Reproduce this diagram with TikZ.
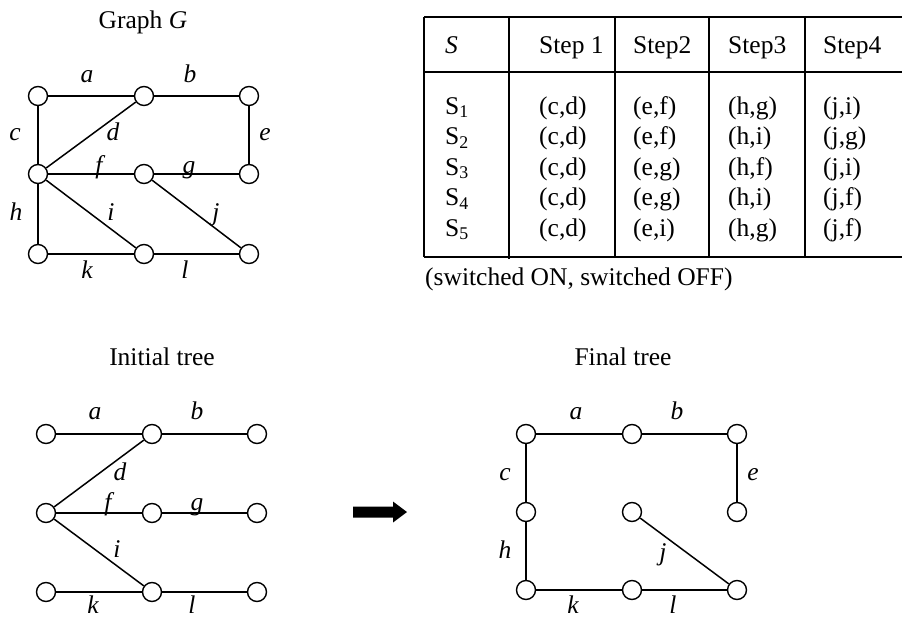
\documentclass[tikz,border=0pt]{standalone}
\usepackage{fontspec}
\setmainfont{Liberation Serif}
\begin{document}
\begin{tikzpicture}[x=1pt,y=-1pt,
  vtx/.style={circle,draw,line width=1.4pt,minimum size=19pt,inner sep=0pt,fill=white},
  edge/.style={line width=1.5pt},
  lab/.style={anchor=base,inner sep=0pt,font=\fontsize{25.5}{30}\selectfont\itshape},
  ttl/.style={anchor=base,inner sep=0pt,font=\fontsize{25.5}{30}\selectfont},
  cell/.style={anchor=base west,inner sep=0pt,font=\fontsize{25.5}{30}\selectfont},
  tline/.style={line width=1.5pt}]
\useasboundingbox (0,0) rectangle (902,618);

% ---------- Graph G ----------
\node[ttl] (tG) at (143,29) {Graph \textit{G}};
\node[vtx] (g11) at (38,96) {};
\node[vtx] (g12) at (144,96) {};
\node[vtx] (g13) at (249,96) {};
\node[vtx] (g21) at (38,174) {};
\node[vtx] (g22) at (144,174) {};
\node[vtx] (g23) at (249,174) {};
\node[vtx] (g31) at (38,254) {};
\node[vtx] (g32) at (144,254) {};
\node[vtx] (g33) at (249,254) {};
\draw[edge] (g11) -- (g12);
\draw[edge] (g12) -- (g13);
\draw[edge] (g11) -- (g21);
\draw[edge] (g21) -- (g12);
\draw[edge] (g13) -- (g23);
\draw[edge] (g21) -- (g22);
\draw[edge] (g22) -- (g23);
\draw[edge] (g21) -- (g31);
\draw[edge] (g21) -- (g32);
\draw[edge] (g22) -- (g33);
\draw[edge] (g31) -- (g32);
\draw[edge] (g32) -- (g33);
\node[lab] (Ga) at (87,82) {a};
\node[lab] (Gb) at (190,82) {b};
\node[lab] (Gc) at (15,140) {c};
\node[lab] (Gd) at (113,140) {d};
\node[lab] (Ge) at (265,140) {e};
\node[lab] (Gf) at (99,173) {f};
\node[lab] (Gg) at (189,173) {g};
\node[lab] (Gh) at (16,220) {h};
\node[lab] (Gi) at (111,220) {i};
\node[lab] (Gj) at (216,220) {j};
\node[lab] (Gk) at (87,278) {k};
\node[lab] (Gl) at (185,278) {l};

% ---------- Table ----------
\draw[tline] (424,17) -- (902,17);
\draw[tline] (424,72) -- (902,72);
\draw[tline] (424,257) -- (902,257);
\draw[tline] (424,17) -- (424,257);
\draw[tline] (509,17) -- (509,259);
\draw[tline] (615,17) -- (615,257);
\draw[tline] (709,17) -- (709,257);
\draw[tline] (805,17) -- (805,257);
\node[cell] (hS) at (445,53) {\textit{S}};
\node[cell] (h1) at (539,53) {Step 1};
\node[cell] (h2) at (633,53) {Step2};
\node[cell] (h3) at (728,53) {Step3};
\node[cell] (h4) at (823,53) {Step4};
\foreach \i/\yy/\a/\b/\c/\d in {1/114/{(c,d)}/{(e,f)}/{(h,g)}/{(j,i)},
                                 2/144.5/{(c,d)}/{(e,f)}/{(h,i)}/{(j,g)},
                                 3/175/{(c,d)}/{(e,g)}/{(h,f)}/{(j,i)},
                                 4/205.5/{(c,d)}/{(e,g)}/{(h,i)}/{(j,f)},
                                 5/236/{(c,d)}/{(e,i)}/{(h,g)}/{(j,f)}}{
  \node[cell] (s\i) at (445,\yy) {S\textsubscript{\i}};
  \node[cell] (a\i) at (539,\yy) {\a};
  \node[cell] (b\i) at (633,\yy) {\b};
  \node[cell] (c\i) at (728,\yy) {\c};
  \node[cell] (d\i) at (823,\yy) {\d};
}
\node[cell] (note) at (425,285) {(switched ON, switched OFF)};

% ---------- Initial tree ----------
\node[ttl] (tI) at (162,365) {Initial tree};
\node[vtx] (i11) at (46,434) {};
\node[vtx] (i12) at (152,434) {};
\node[vtx] (i13) at (257,434) {};
\node[vtx] (i21) at (46,513) {};
\node[vtx] (i22) at (152,513) {};
\node[vtx] (i23) at (257,513) {};
\node[vtx] (i31) at (46,592) {};
\node[vtx] (i32) at (152,592) {};
\node[vtx] (i33) at (257,592) {};
\draw[edge] (i11) -- (i12);
\draw[edge] (i12) -- (i13);
\draw[edge] (i21) -- (i12);
\draw[edge] (i21) -- (i22);
\draw[edge] (i22) -- (i23);
\draw[edge] (i21) -- (i32);
\draw[edge] (i31) -- (i32);
\draw[edge] (i32) -- (i33);
\node[lab] (Ia) at (95,419) {a};
\node[lab] (Ib) at (197,419) {b};
\node[lab] (Id) at (120,480) {d};
\node[lab] (If) at (108,510) {f};
\node[lab] (Ig) at (197,510) {g};
\node[lab] (Ii) at (117,557) {i};
\node[lab] (Ik) at (93,613) {k};
\node[lab] (Il) at (192,613) {l};

% ---------- Arrow ----------
\fill[black] (353,506.5) -- (393,506.5) -- (393,501.5) -- (407,512) -- (393,522.5) -- (393,517.5) -- (353,517.5) -- cycle;

% ---------- Final tree ----------
\node[ttl] (tF) at (623,365) {Final tree};
\node[vtx] (f11) at (526,434) {};
\node[vtx] (f12) at (632,434) {};
\node[vtx] (f13) at (737,434) {};
\node[vtx] (f21) at (526,512) {};
\node[vtx] (f22) at (632,512) {};
\node[vtx] (f23) at (737,512) {};
\node[vtx] (f31) at (526,590) {};
\node[vtx] (f32) at (632,590) {};
\node[vtx] (f33) at (737,590) {};
\draw[edge] (f11) -- (f12);
\draw[edge] (f12) -- (f13);
\draw[edge] (f11) -- (f21);
\draw[edge] (f13) -- (f23);
\draw[edge] (f21) -- (f31);
\draw[edge] (f31) -- (f32);
\draw[edge] (f32) -- (f33);
\draw[edge] (f22) -- (f33);
\node[lab] (Fa) at (576,419) {a};
\node[lab] (Fb) at (677,419) {b};
\node[lab] (Fc) at (505,480) {c};
\node[lab] (Fe) at (753,480) {e};
\node[lab] (Fh) at (505,558) {h};
\node[lab] (Fj) at (663,560) {j};
\node[lab] (Fk) at (573,613) {k};
\node[lab] (Fl) at (673,613) {l};
\end{tikzpicture}
\end{document}
